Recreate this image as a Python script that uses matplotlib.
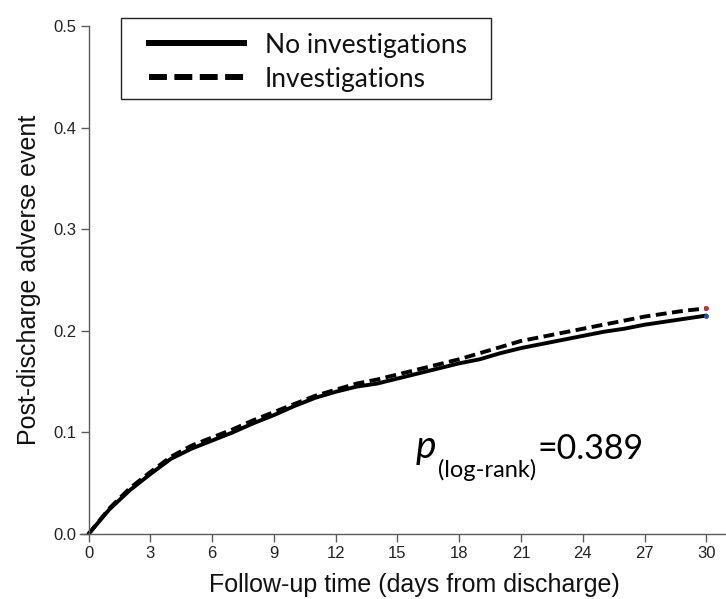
import matplotlib
matplotlib.use("Agg")
import matplotlib.pyplot as plt
from matplotlib.lines import Line2D
from matplotlib.patches import Rectangle

# follow-up days and cumulative adverse event proportion
days = list(range(0, 31))
no_invest = [0.000, 0.024, 0.043, 0.059, 0.074, 0.084, 0.092, 0.100, 0.109, 0.117,
             0.126, 0.134, 0.140, 0.145, 0.148, 0.153, 0.158, 0.163, 0.168, 0.172,
             0.178, 0.183, 0.187, 0.191, 0.195, 0.199, 0.202, 0.206, 0.209, 0.212,
             0.215]
invest = [0.000, 0.025, 0.045, 0.061, 0.076, 0.087, 0.095, 0.103, 0.112, 0.120,
          0.128, 0.136, 0.142, 0.148, 0.152, 0.157, 0.162, 0.167, 0.172, 0.178,
          0.184, 0.190, 0.194, 0.198, 0.202, 0.206, 0.210, 0.214, 0.217, 0.220,
          0.222]
labels = ["No investigations", "Investigations"]
xticks = list(range(0, 31, 3))
yticks = [0.0, 0.1, 0.2, 0.3, 0.4, 0.5]
p_value = "=0.389"

W, H = 726, 599
fig = plt.figure(figsize=(W / 100, H / 100), dpi=100)
ax = fig.add_axes([80.3 / W, 1 - 534 / H, 1 - 80.3 / W, (534 - 26) / H])

def fx(px):
    return px / W

def fy(py):
    return 1 - py / H

gray = "#5a5a5a"
ax.plot(days, no_invest, color="black", lw=2.8, solid_capstyle="round")
ax.plot(days, invest, color="black", lw=2.8, dashes=(2.8, 1.4))
ax.plot(days[-1], invest[-1], "o", ms=2.5, color="#c03030")
ax.plot(days[-1], no_invest[-1], "o", ms=2.5, color="#3050b0")

ax.set_xlim(-0.4, 30.95)
ax.set_ylim(0, 0.5)
ax.spines["left"].set_position(("data", 0))
ax.spines["left"].set_bounds(0, 0.5)
for s in ["top", "right"]:
    ax.spines[s].set_visible(False)
for s in ["left", "bottom"]:
    ax.spines[s].set_color(gray)
    ax.spines[s].set_linewidth(1.0)

ax.set_xticks(xticks)
ax.set_yticks(yticks)
ax.set_yticklabels(["%.1f" % v for v in yticks])
ax.tick_params(axis="both", direction="out", length=6, width=1.0, color=gray,
               labelsize=12, labelcolor="#222222", pad=2.5)
for lab in ax.get_xticklabels() + ax.get_yticklabels():
    lab.set_family("Liberation Sans")

ax.set_xlabel("Follow-up time (days from discharge)", fontsize=18,
              family="Liberation Sans", color="#111111")
ax.xaxis.set_label_coords((414.5 - 80.3) / (W - 80.3), -(602 - 534) / (534 - 26) + 0.0)
ax.xaxis.label.set_va("baseline")
ax.xaxis.set_label_coords((414.5 - 80.3) / (W - 80.3), -(592 - 534) / (534 - 26))
ax.set_ylabel("Post-discharge adverse event", fontsize=18,
              family="Liberation Sans", color="#111111", labelpad=9)

# legend box drawn by hand
fig.patches.append(Rectangle((fx(121), fy(99)), fx(491) - fx(121), fy(18) - fy(99),
                             transform=fig.transFigure, fill=False,
                             edgecolor="#222222", lw=1.0))
fig.lines.append(Line2D([fx(149), fx(244)], [fy(42.7), fy(42.7)],
                        transform=fig.transFigure, color="black", lw=4.3))
fig.lines.append(Line2D([fx(149), fx(244)], [fy(76.7), fy(76.7)],
                        transform=fig.transFigure, color="black", lw=4.3,
                        dashes=(3.0, 1.25)))
for lab, yy in zip(labels, [42.7, 76.7]):
    fig.text(fx(265), fy(yy), lab, family="Lato", fontsize=19,
             va="center_baseline", ha="left", color="#111111")

# p-value annotation
fig.text(fx(416), fy(458), "p", family="Lato", style="italic",
         fontsize=28, va="baseline", ha="left")
fig.text(fx(438), fy(477), "(log-rank)", family="Lato",
         fontsize=17, va="baseline", ha="left")
fig.text(fx(537), fy(459), p_value, family="Lato",
         fontsize=24.5, va="baseline", ha="left")

fig.savefig("out.png", dpi=100)
